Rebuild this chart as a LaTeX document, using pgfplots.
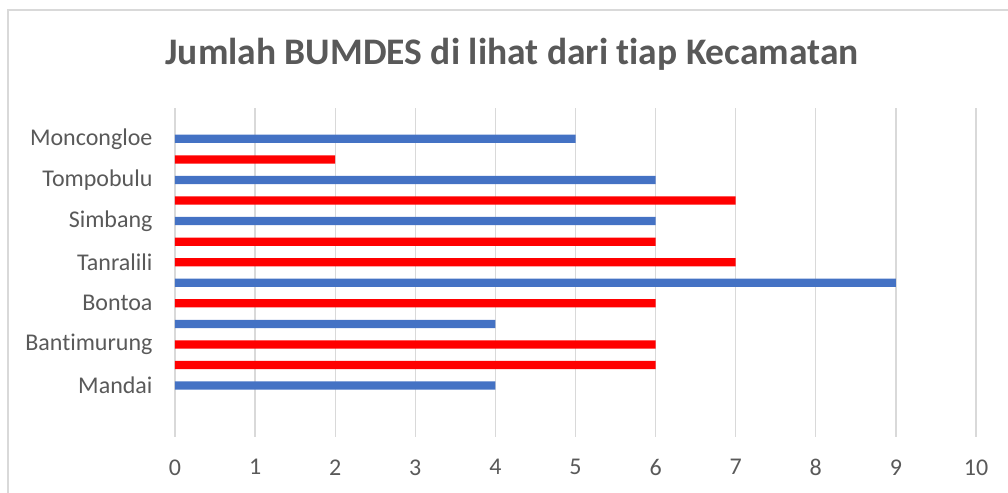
\documentclass[border=0pt]{standalone}
\usepackage{fontspec}
\setmainfont{Carlito}[RawFeature={-liga;-clig;-calt;-dlig}]
\usepackage{pgfplots}
\pgfplotsset{compat=1.18}
\definecolor{xlblue}{RGB}{68,114,196}
\definecolor{xlred}{RGB}{255,0,0}
\definecolor{xlgray}{RGB}{89,89,89}
\definecolor{xlgrid}{RGB}{217,217,217}
\begin{document}
\begin{tikzpicture}[x=1bp,y=1bp]
\useasboundingbox (-175,-56) rectangle (833,437);
\draw[xlgrid, line width=1.2bp] (-167,-70) -- (-167,427) -- (850,427);
\begin{axis}[
  at={(0,0)}, anchor=south west,
  scale only axis, width=801bp, height=329bp,
  xmin=0, xmax=10, ymin=-2.5, ymax=13.5,
  xtick={0,1,...,10},
  ytick={0,2,4,6,8,10,12},
  yticklabels={Mandai,Bantimurung,Bontoa,Tanralili,Simbang,Tompobulu,Moncongloe},
  xmajorgrids, major grid style={xlgrid, line width=1.3bp},
  axis line style={draw=none},
  major tick length=0pt,
  /pgf/number format/assume math mode=true,
  tick label style={font=\fontsize{24bp}{29bp}\selectfont, text=xlgray},
  xticklabel style={yshift=-19bp},
  yticklabel style={xshift=-19bp},
  xbar, bar width=0.4, bar shift=0pt,
  clip=false,
]
\addplot[draw=none, fill=xlblue] coordinates {(4,0) (4,3) (9,5) (6,8) (6,10) (5,12)};
\addplot[draw=none, fill=xlred] coordinates {(6,1) (6,2) (6,4) (7,6) (6,7) (7,9) (2,11)};
\end{axis}
\node[anchor=base, text=xlgray, font=\fontsize{37.5bp}{45bp}\selectfont\bfseries] at (337,372) {Jumlah BUMDES di lihat dari tiap Kecamatan};
\end{tikzpicture}
\end{document}
